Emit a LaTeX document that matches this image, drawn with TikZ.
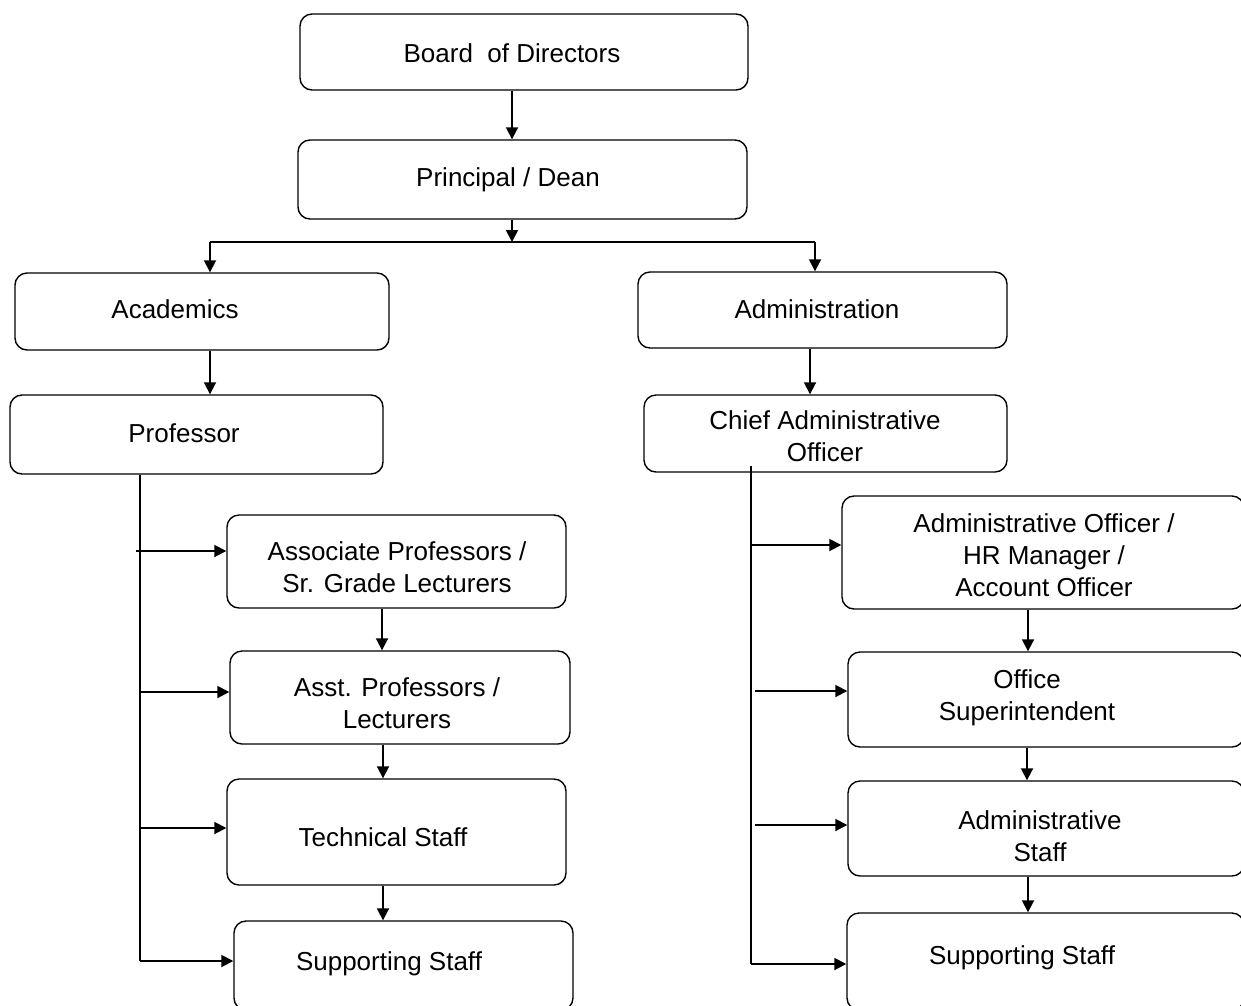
\documentclass[tikz,border=0pt]{standalone}
\usepackage{fontspec}
\setmainfont{Liberation Sans}
\usetikzlibrary{arrows.meta}
\begin{document}
\begin{tikzpicture}[x=1pt,y=-1pt,
  box/.style={draw=black, line width=1.4pt, rounded corners=12pt, fill=none, inner sep=0pt},
  txt/.style={inner sep=0pt, align=center, font=\fontsize{26}{32}\selectfont},
  conn/.style={draw=black, line width=1.8pt},
  arr/.style={conn, -{Triangle[length=12pt,width=12pt]}}]
\useasboundingbox (0,0) rectangle (1241,1005);
\fill[white] (0,0) rectangle (1241,1005);
% boxes
\node[box, minimum width=448pt, minimum height=76pt] (board) at (524,52) {};
\node[box, minimum width=449pt, minimum height=79pt] (principal) at (522.5,179.5) {};
\node[box, minimum width=374pt, minimum height=77pt] (acad) at (202,311.5) {};
\node[box, minimum width=369pt, minimum height=76pt] (admin) at (822.5,310) {};
\node[box, minimum width=373pt, minimum height=79pt] (prof) at (196.5,434.5) {};
\node[box, minimum width=363pt, minimum height=77pt] (cao) at (825.5,433.5) {};
\node[box, minimum width=339pt, minimum height=93pt] (assoc) at (396.5,561.5) {};
\node[box, minimum width=340pt, minimum height=93pt] (asst) at (400,697.5) {};
\node[box, minimum width=339pt, minimum height=106pt] (tech) at (396.5,832) {};
\node[box, minimum width=339pt, minimum height=89pt] (suppL) at (403.5,965.5) {};
\node[box, minimum width=402pt, minimum height=113pt] (aoff) at (1043,552.5) {};
\node[box, minimum width=396pt, minimum height=95pt] (osup) at (1046,699.5) {};
\node[box, minimum width=396pt, minimum height=95pt] (astaff) at (1046,828.5) {};
\node[box, minimum width=397pt, minimum height=97pt] (suppR) at (1045.5,961.5) {};
% labels
\node[txt] (tboard) at (512,53) {Board~ of Directors};
\node[txt] (tprincipal) at (508,180) {Principal / Dean};
\node[txt] (tacad) at (175,309) {Academics};
\node[txt] (tadmin) at (817,309) {Administration};
\node[txt] (tprof) at (184,433) {Professor};
\node[txt] (tcao) at (825,436) {Chief Administrative\\Officer};
\node[txt] (tassoc) at (397,567) {Associate Professors /\\Sr. Grade Lecturers};
\node[txt] (tasst) at (397,703) {Asst. Professors /\\Lecturers};
\node[txt] (ttech) at (383,837) {Technical Staff};
\node[txt] (tsuppL) at (389,964) {Supporting Staff};
\node[txt] (taoff) at (1044,555) {Administrative Officer /\\HR Manager /\\Account Officer};
\node[txt] (tosup) at (1027,698) {Office\\Superintendent};
\node[txt] (tastaff) at (1040,836) {Administrative\\Staff};
\node[txt] (tsuppR) at (1022,958) {Supporting Staff};
% helper coordinates
\coordinate (c512) at (512,0);
\coordinate (busL) at (210,242);
\coordinate (busM) at (512,242);
\coordinate (busR) at (815,242);
\coordinate (c810) at (810,0);
\coordinate (c382) at (382,0);
\coordinate (c383) at (383,0);
\coordinate (c1028) at (1028,0);
\coordinate (c1027) at (1027,0);
\coordinate (trunkL) at (140,0);
\coordinate (trunkLend) at (140,961);
\coordinate (tL1) at (136,551);
\coordinate (tL2) at (140,692);
\coordinate (tL3) at (140,828);
\coordinate (trunkRtop) at (751,466);
\coordinate (trunkRend) at (751,964);
\coordinate (tR1) at (751,545);
\coordinate (tR2) at (755,691);
\coordinate (tR3) at (755,825);
% connectors top
\draw[arr] (c512 |- board.south) -- (c512 |- principal.north);
\draw[arr] (c512 |- principal.south) -- (busM);
\draw[conn] (busL) -- (busR);
\draw[arr] (busL) -- (busL |- acad.north);
\draw[arr] (busR) -- (busR |- admin.north);
\draw[arr] (busL |- acad.south) -- (busL |- prof.north);
\draw[arr] (c810 |- admin.south) -- (c810 |- cao.north);
% left trunk
\draw[conn] (trunkL |- prof.south) -- (trunkLend);
\draw[arr] (trunkLend) -- (trunkLend -| suppL.west);
\draw[arr] (tL1) -- (tL1 -| assoc.west);
\draw[arr] (tL2) -- (tL2 -| asst.west);
\draw[arr] (tL3) -- (tL3 -| tech.west);
\draw[arr] (c382 |- assoc.south) -- (c382 |- asst.north);
\draw[arr] (c383 |- asst.south) -- (c383 |- tech.north);
\draw[arr] (c383 |- tech.south) -- (c383 |- suppL.north);
% right trunk
\draw[conn] (trunkRtop) -- (trunkRend);
\draw[arr] (trunkRend) -- (trunkRend -| suppR.west);
\draw[arr] (tR1) -- (tR1 -| aoff.west);
\draw[arr] (tR2) -- (tR2 -| osup.west);
\draw[arr] (tR3) -- (tR3 -| astaff.west);
\draw[arr] (c1028 |- aoff.south) -- (c1028 |- osup.north);
\draw[arr] (c1027 |- osup.south) -- (c1027 |- astaff.north);
\draw[arr] (c1028 |- astaff.south) -- (c1028 |- suppR.north);
\end{tikzpicture}
\end{document}
